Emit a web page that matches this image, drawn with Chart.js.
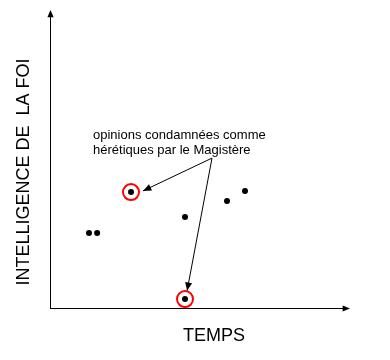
<!DOCTYPE html>
<html>
<head>
<meta charset="utf-8">
<script src="https://cdn.jsdelivr.net/npm/chart.js@4"></script>
<style>
  html, body { margin: 0; padding: 0; background: #fff; }
  #wrap { width: 390px; height: 360px; }
</style>
</head>
<body>
<div id="wrap"><canvas id="myChart"></canvas></div>
<script>
// points on the time / understanding plane (arbitrary units 0..100)
const xValues = [13, 15.7, 27, 45, 59, 65, 45];
const yValues = [25.2, 25.2, 38.9, 30.5, 35.9, 39.3, 3.0];
const condemned = [2, 6]; // indices of the circled points

const xTitle = 'TEMPS';
const yTitle = 'INTELLIGENCE DE  LA FOI';
const noteLines = ['opinions condamnées comme', 'hérétiques par le Magistère'];
// where the note arrows start and end (data units)
const noteFrom = { x: 54, y: 50.3 };
const noteTo = [{ x: 31, y: 39.3 }, { x: 45.7, y: 5.8 }];

const points = xValues.map((x, i) => ({ x, y: yValues[i] }));
const circled = condemned.map(i => points[i]);

const ctx = document.getElementById('myChart');

function arrowHead(c, x1, y1, x2, y2, size) {
  const a = Math.atan2(y2 - y1, x2 - x1);
  c.beginPath();
  c.moveTo(x2, y2);
  c.lineTo(x2 - size * Math.cos(a - 0.4), y2 - size * Math.sin(a - 0.4));
  c.lineTo(x2 - size * Math.cos(a + 0.4), y2 - size * Math.sin(a + 0.4));
  c.closePath();
  c.fill();
}

const decorations = {
  id: 'decorations',
  beforeDatasetsDraw(chart) {
    const c = chart.ctx;
    const { left, right, top, bottom } = chart.chartArea;
    const xs = chart.scales.x, ys = chart.scales.y;
    c.save();
    c.strokeStyle = '#000';
    c.fillStyle = '#000';
    c.lineWidth = 1;

    // axes with arrows
    c.beginPath();
    c.moveTo(left + 0.5, bottom);
    c.lineTo(left + 0.5, top + 4);
    c.moveTo(left, bottom + 0.5);
    c.lineTo(right - 4, bottom + 0.5);
    c.stroke();
    arrowHead(c, left + 0.5, bottom, left + 0.5, top, 8);
    arrowHead(c, left, bottom + 0.5, right, bottom + 0.5, 8);

    // axis titles
    c.font = '18px "Liberation Sans", Arial, sans-serif';
    c.textAlign = 'center';
    c.textBaseline = 'alphabetic';
    c.fillText(xTitle, 214, 341);
    c.translate(29, 172);
    c.rotate(-Math.PI / 2);
    c.fillText(yTitle, 0, 0);
    c.setTransform(1, 0, 0, 1, 0, 0);

    // note
    c.font = '13px "Liberation Sans", Arial, sans-serif';
    c.textAlign = 'left';
    c.fillText(noteLines[0], 93, 139);
    c.fillText(noteLines[1], 93, 154);

    const fx = xs.getPixelForValue(noteFrom.x), fy = ys.getPixelForValue(noteFrom.y);
    noteTo.forEach(p => {
      const tx = xs.getPixelForValue(p.x), ty = ys.getPixelForValue(p.y);
      c.beginPath();
      c.moveTo(fx, fy);
      c.lineTo(tx, ty);
      c.stroke();
      arrowHead(c, fx, fy, tx, ty, 9);
    });
    c.restore();
  }
};

new Chart(ctx, {
  type: 'scatter',
  data: {
    datasets: [
      {
        data: points,
        pointRadius: 3,
        pointBackgroundColor: '#000',
        pointBorderWidth: 0,
      },
      {
        data: circled,
        pointRadius: 8,
        pointBackgroundColor: 'rgba(0,0,0,0)',
        pointBorderColor: '#f00',
        pointBorderWidth: 2,
      },
    ],
  },
  options: {
    responsive: true,
    maintainAspectRatio: false,
    animation: false,
    events: [],
    layout: { padding: { left: 50, right: 40, top: 10, bottom: 52 } },
    plugins: {
      legend: { display: false },
      tooltip: { enabled: false },
    },
    scales: {
      x: { type: 'linear', min: 0, max: 100, display: false },
      y: { type: 'linear', min: 0, max: 100, display: false },
    },
  },
  plugins: [decorations],
});
</script>
</body>
</html>
